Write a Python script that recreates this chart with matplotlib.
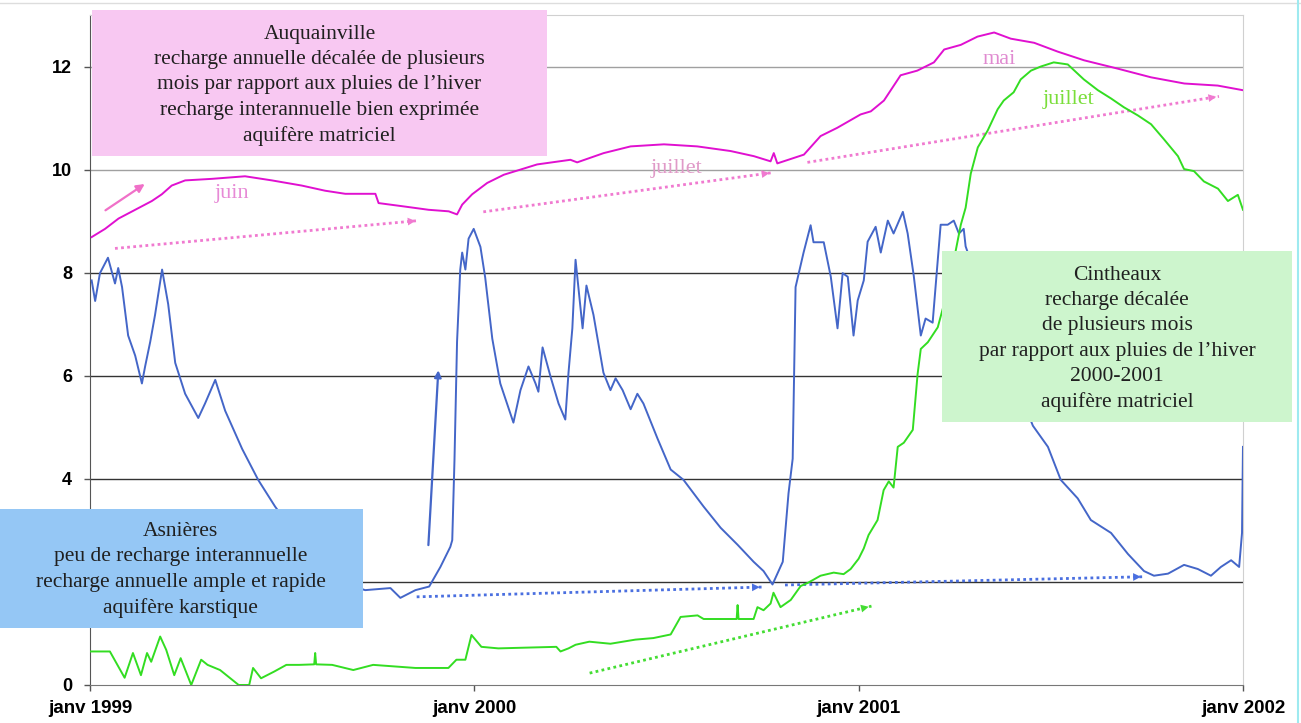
import matplotlib
matplotlib.use("Agg")
import matplotlib.pyplot as plt
import numpy as np
from matplotlib.patches import Rectangle
from matplotlib.lines import Line2D

# x = months since janv 1999, y = water level (m)
auq_month = [0.05, 0.47, 0.89, 1.41, 1.93, 2.24, 2.55, 2.97, 3.80, 4.84, 5.68, 6.61, 7.34,
             7.97, 8.91, 9.01, 9.74, 10.57, 11.20, 11.46, 11.62, 11.93, 12.40, 12.92, 13.96,
             15.00, 15.21, 16.04, 16.88, 17.92, 18.96, 20.00, 20.73, 21.25, 21.35, 21.46,
             22.29, 22.81, 23.33, 24.06, 24.38, 24.79, 25.31, 25.83, 26.35, 26.67, 27.19,
             27.71, 28.23, 28.75, 29.48, 30.21, 31.04, 32.08, 33.13, 34.17, 35.21, 36.00]
auq_level = [8.69, 8.85, 9.05, 9.22, 9.39, 9.52, 9.69, 9.79, 9.82, 9.87, 9.79, 9.69, 9.59,
             9.53, 9.53, 9.35, 9.29, 9.22, 9.19, 9.13, 9.32, 9.52, 9.74, 9.90, 10.10,
             10.19, 10.14, 10.32, 10.45, 10.49, 10.45, 10.36, 10.26, 10.16, 10.32, 10.12,
             10.29, 10.65, 10.81, 11.07, 11.13, 11.34, 11.83, 11.92, 12.08, 12.33, 12.42,
             12.58, 12.66, 12.54, 12.46, 12.29, 12.12, 11.96, 11.79, 11.67, 11.63, 11.54]

asn_month = [0.05, 0.16, 0.31, 0.56, 0.78, 0.88, 1.00, 1.19, 1.41, 1.62, 1.72, 1.88, 2.03,
             2.25, 2.44, 2.66, 2.97, 3.38, 3.59, 3.91, 4.22, 4.75, 5.25, 5.78, 6.80, 7.80,
             8.59, 9.38, 9.69, 10.16, 10.59, 10.94, 11.25, 11.31, 11.38, 11.46, 11.56, 11.62,
             11.72, 11.82, 11.98, 12.19, 12.34, 12.56, 12.81, 13.22, 13.44, 13.69, 13.91,
             14.00, 14.13, 14.38, 14.63, 14.84, 14.94, 15.06, 15.16, 15.38, 15.50, 15.72,
             16.03, 16.25, 16.41, 16.63, 16.88, 17.09, 17.28, 17.72, 18.13, 18.53, 19.16,
             19.69, 20.22, 20.72, 21.03, 21.31, 21.63, 21.81, 21.94, 22.03, 22.13, 22.28,
             22.50, 22.59, 22.91, 23.13, 23.34, 23.50, 23.66, 23.84, 23.97, 24.16, 24.28,
             24.53, 24.69, 24.91, 25.09, 25.38, 25.53, 25.72, 25.94, 26.09, 26.31, 26.56,
             26.78, 26.97, 27.13, 27.28, 27.34, 28.30, 29.44, 29.91, 30.31, 30.84, 31.25,
             31.88, 32.41, 32.91, 33.22, 33.66, 34.16, 34.59, 35.00, 35.31, 35.63, 35.88,
             35.97, 36.00]
asn_level = [7.85, 7.45, 7.99, 8.29, 7.79, 8.09, 7.72, 6.78, 6.39, 5.85, 6.18, 6.66, 7.18,
             8.06, 7.39, 6.25, 5.65, 5.18, 5.46, 5.92, 5.32, 4.58, 3.98, 3.46, 2.60, 2.00,
             1.84, 1.88, 1.69, 1.84, 1.91, 2.29, 2.68, 2.81, 4.37, 6.66, 8.06, 8.39,
             8.06, 8.66, 8.85, 8.50, 7.90, 6.72, 5.85, 5.09, 5.72, 6.18, 5.85,
             5.69, 6.55, 5.98, 5.46, 5.15, 6.06, 6.92, 8.25, 6.92, 7.75, 7.18,
             6.06, 5.72, 5.95, 5.72, 5.35, 5.65, 5.46, 4.78, 4.18, 3.98, 3.46,
             3.05, 2.72, 2.39, 2.21, 1.95, 2.39, 3.72, 4.39, 7.72, 7.99, 8.39,
             8.92, 8.59, 8.59, 7.92, 6.92, 7.99, 7.92, 6.78, 7.46, 7.85, 8.60,
             8.89, 8.39, 9.01, 8.76, 9.18, 8.76, 7.94, 6.78, 7.11, 7.03, 8.93,
             8.93, 9.01, 8.76, 8.85, 8.51, 6.80, 5.03, 4.62, 3.98, 3.62, 3.20,
             2.95, 2.54, 2.21, 2.12, 2.16, 2.33, 2.25, 2.12, 2.29, 2.42, 2.29,
             2.95, 4.62]

cin_month = [0.00, 0.62, 1.08, 1.34, 1.59, 1.78, 1.91, 2.19, 2.38, 2.63, 2.83, 3.16, 3.47,
             3.67, 4.06, 4.44, 4.64, 4.97, 5.09, 5.34, 5.75, 6.13, 6.53, 7.00, 7.03, 7.06,
             7.56, 8.22, 8.84, 9.50, 10.16, 11.19, 11.44, 11.72, 11.91, 12.22, 12.75, 14.56,
             14.69, 14.94, 15.16, 15.59, 16.25, 17.03, 17.59, 18.13, 18.44, 18.97, 19.16,
             20.09, 20.19, 20.22, 20.25, 20.72, 20.84, 21.03, 21.25, 21.34, 21.56, 21.88,
             22.19, 22.41, 22.81, 23.22, 23.53, 23.75, 24.00, 24.16, 24.31, 24.59, 24.78,
             24.94, 25.09, 25.22, 25.41, 25.69, 25.84, 25.94, 26.16, 26.47, 26.80, 27.19,
             27.34, 27.50, 27.72, 28.03, 28.34, 28.53, 28.84, 29.06, 29.38, 29.69, 30.09,
             30.53, 31.03, 31.47, 31.88, 32.28, 32.72, 33.13, 33.53, 33.97, 34.16, 34.47,
             34.78, 35.22, 35.53, 35.84, 36.00]
cin_level = [0.65, 0.65, 0.14, 0.62, 0.19, 0.62, 0.45, 0.94, 0.68, 0.19, 0.52, 0.00, 0.49,
             0.39, 0.29, 0.10, 0.00, 0.00, 0.33, 0.13, 0.26, 0.39, 0.39, 0.40, 0.62, 0.40,
             0.39, 0.29, 0.39, 0.36, 0.33, 0.33, 0.49, 0.49, 0.97, 0.74, 0.71, 0.74,
             0.65, 0.71, 0.78, 0.84, 0.80, 0.88, 0.91, 0.98, 1.32, 1.35, 1.28,
             1.28, 1.28, 1.55, 1.28, 1.28, 1.51, 1.45, 1.58, 1.79, 1.51, 1.65,
             1.92, 1.98, 2.12, 2.18, 2.15, 2.25, 2.45, 2.65, 2.91, 3.20, 3.78,
             3.95, 3.83, 4.62, 4.70, 4.95, 6.03, 6.52, 6.65, 6.94, 7.70, 8.93,
             9.26, 9.92, 10.43, 10.76, 11.17, 11.34, 11.50, 11.75, 11.92, 12.00, 12.08,
             12.04, 11.75, 11.54, 11.38, 11.21, 11.05, 10.88, 10.59, 10.26, 10.01, 9.97,
             9.77, 9.63, 9.39, 9.51, 9.22]

tick_months = [0, 12, 24, 36]
tick_labels = ["janv 1999", "janv 2000", "janv 2001", "janv 2002"]
y_ticks = [0, 2, 4, 6, 8, 10, 12]
y_labels = ["0", "", "4", "6", "8", "10", "12"]   # "2" sits under the Asnières box

# trend arrows: ((start month, start level), (end month, end level))
pink_trends = [((0.78, 8.47), (10.25, 9.01)), ((12.28, 9.18), (21.3, 9.94)),
               ((22.4, 10.14), (35.25, 11.42))]
blue_trends = [((10.2, 1.71), (21.0, 1.90)), ((21.7, 1.94), (32.9, 2.10))]
green_trends = [((15.6, 0.23), (24.4, 1.53))]

month_notes = [("juin", 4.44, 9.53, "#e78ad6"), ("juillet", 18.3, 10.02, "#e09ac8"),
               ("mai", 28.4, 12.14, "#e08ad0"), ("juillet", 30.56, 11.36, "#7ade3a")]

C_MAG = "#e010d0"
C_BLUE = "#4466c8"
C_GREEN = "#33dd22"
SERIF = "Liberation Serif"
SANS = "Liberation Sans"

fig = plt.figure(figsize=(13.01, 7.23), dpi=100)
ax = fig.add_axes([0.0692, 0.0526, 0.8862, 0.9267])
ax.set_xlim(0, 36)
ax.set_ylim(0, 13)

for y in y_ticks[1:]:
    ax.axhline(y, color="#333333" if y <= 8 else "#a0a0a0", lw=1.0, zorder=1)

ax.plot(asn_month, asn_level, color=C_BLUE, lw=1.4, zorder=3)
ax.plot(cin_month, cin_level, color=C_GREEN, lw=1.4, zorder=3)
ax.plot(auq_month, auq_level, color=C_MAG, lw=1.4, zorder=3)


def trend(p0, p1, color):
    ax.plot([p0[0], p1[0]], [p0[1], p1[1]], color=color, lw=2.0,
            ls=(0, (1, 1.2)), zorder=2)
    back = (p0[0] + 0.97 * (p1[0] - p0[0]), p0[1] + 0.97 * (p1[1] - p0[1]))
    ax.annotate("", xy=p1, xytext=back,
                arrowprops=dict(arrowstyle="-|>", color=color, lw=0,
                                mutation_scale=14), zorder=2)


for p0, p1 in pink_trends:
    trend(p0, p1, "#f07ad0")
for p0, p1 in blue_trends:
    trend(p0, p1, "#4a6fe0")
for p0, p1 in green_trends:
    trend(p0, p1, "#44dd33")

# solid arrows
ax.annotate("", xy=(1.78, 9.75), xytext=(0.41, 9.18),
            arrowprops=dict(arrowstyle="-|>", color="#f070c8", lw=1.6,
                            mutation_scale=12), zorder=2)
ax.annotate("", xy=(10.88, 6.16), xytext=(10.56, 2.66),
            arrowprops=dict(arrowstyle="-|>", color=C_BLUE, lw=1.6,
                            mutation_scale=10), zorder=2)

for txt, mx, lv, col in month_notes:
    ax.text(mx, lv, txt, color=col, fontsize=16, family=SERIF,
            ha="center", va="center", zorder=4)

ax.set_xticks(tick_months)
ax.set_xticklabels(tick_labels, fontsize=13.5, fontweight="bold", family=SANS)
ax.set_yticks(y_ticks)
ax.set_yticklabels(y_labels, fontsize=13, fontweight="bold", family=SANS)
ax.tick_params(axis="both", direction="out", length=4, width=1, color="#555555")
ax.tick_params(axis="x", pad=7)
ax.tick_params(axis="y", pad=9)
ax.spines["left"].set_color("#555555")
ax.spines["bottom"].set_color("#777777")
ax.spines["top"].set_color("#d0d0d0")
ax.spines["right"].set_color("#d0d0d0")

# annotation boxes (figure fraction)
boxes = [
    ((0.0707, 0.7842), 0.3497, 0.2019, "#f8c8f2", (0.2456, 0.8817),
     "Auquainville\nrecharge annuelle décalée de plusieurs\nmois par rapport aux pluies de l’hiver\n"
     "recharge interannuelle bien exprimée\naquifère matriciel"),
    ((0.7241, 0.4163), 0.2690, 0.2365, "#cdf5cd", (0.8586, 0.531),
     "Cintheaux\nrecharge décalée\nde plusieurs mois\npar rapport aux pluies de l’hiver\n"
     "2000-2001\naquifère matriciel"),
    ((0.0, 0.1314), 0.2790, 0.1646, "#95c7f5", (0.139, 0.2116),
     "Asnières\npeu de recharge interannuelle\nrecharge annuelle ample et rapide\naquifère karstique"),
]
for (x0, y0), w, h, fc, (tx, ty), txt in boxes:
    fig.add_artist(Rectangle((x0, y0), w, h, transform=fig.transFigure,
                             facecolor=fc, edgecolor="none", zorder=5))
    fig.text(tx, ty, txt, ha="center", va="center", fontsize=15.5, family=SERIF,
             color="#202020", linespacing=1.45, zorder=6)

fig.add_artist(Line2D([0, 1], [0.996, 0.996], transform=fig.transFigure,
                      color="#dddddd", lw=1))
fig.add_artist(Line2D([0.998, 0.998], [0, 1], transform=fig.transFigure,
                      color="#9eeaf0", lw=1.5))

fig.savefig("out.png", dpi=100)
